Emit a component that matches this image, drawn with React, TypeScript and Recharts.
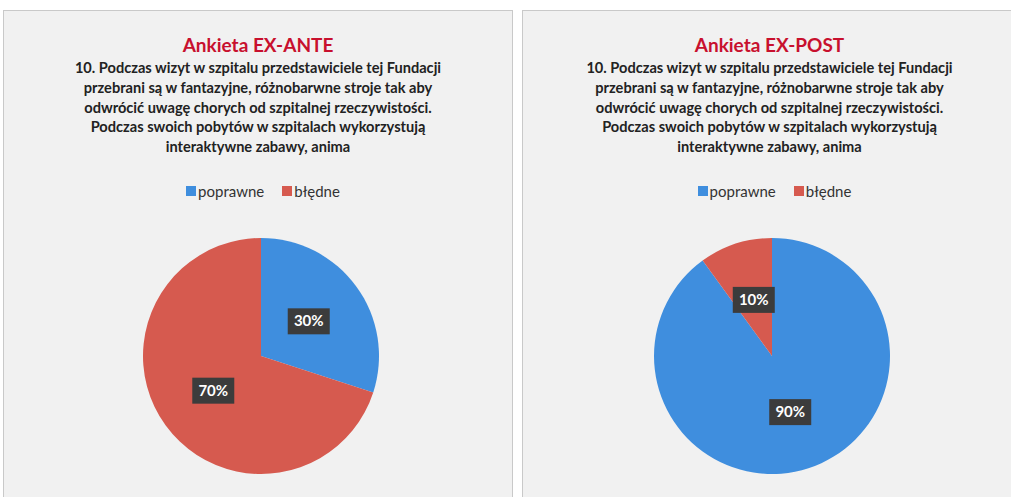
import React from "react";
import { PieChart, Pie, Cell, Legend } from "recharts";

// answer categories and colours
const categories = ["poprawne", "błędne"];
const colors = ["#3f8ede", "#d65a4f"];

// percentages per survey
const exAnteValues = [30, 70];
const exPostValues = [90, 10];

const panelTitles = ["Ankieta EX-ANTE", "Ankieta EX-POST"];

const questionLines = [
  "10. Podczas wizyt w szpitalu przedstawiciele tej Fundacji",
  "przebrani są w fantazyjne, różnobarwne stroje tak aby",
  "odwrócić uwagę chorych od szpitalnej rzeczywistości.",
  "Podczas swoich pobytów w szpitalach wykorzystują",
  "interaktywne zabawy, anima",
];

const FONT = "Lato, 'Open Sans', sans-serif";
const RAD = Math.PI / 180;

// dark box label at half radius
const renderLabel = (props: any) => {
  const { cx, cy, midAngle, outerRadius, value } = props;
  const r = outerRadius * 0.5;
  const x = cx + r * Math.cos(-midAngle * RAD);
  const y = cy + r * Math.sin(-midAngle * RAD);
  return (
    <g>
      <rect x={x - 21} y={y - 13} width={42} height={26} fill="#3c3c3c" />
      <text
        x={x}
        y={y + 1}
        textAnchor="middle"
        dominantBaseline="middle"
        fill="#ffffff"
        fontFamily={FONT}
        fontWeight={700}
        fontSize={15}
      >
        {`${value}%`}
      </text>
    </g>
  );
};

const LegendContent = () => (
  <div
    style={{
      display: "flex",
      justifyContent: "center",
      gap: 18,
      paddingLeft: 10,
      fontFamily: FONT,
      fontSize: 15,
      color: "#333",
    }}
  >
    {categories.map((c, i) => (
      <span key={c} style={{ display: "flex", alignItems: "center" }}>
        <span
          style={{
            width: 10,
            height: 10,
            background: colors[i],
            display: "inline-block",
            marginRight: 2,
          }}
        />
        {c}
      </span>
    ))}
  </div>
);

function SurveyPanel({
  title,
  values,
  left,
  width,
  pieCx,
}: {
  title: string;
  values: number[];
  left: number;
  width: number;
  pieCx: number;
}) {
  const data = categories.map((name, i) => ({ name, value: values[i] }));
  return (
    <div
      style={{
        position: "absolute",
        left,
        top: 10,
        width,
        height: 497,
        background: "#f1f1f1",
        border: "1px solid #c9c9c9",
        boxSizing: "border-box",
      }}
    >
      <div
        style={{
          position: "absolute",
          top: 22,
          left: 0,
          width: "100%",
          textAlign: "center",
          fontFamily: FONT,
          color: "#c8102e",
          fontWeight: 700,
          fontSize: 19,
          lineHeight: "24px",
        }}
      >
        {title}
      </div>
      <div
        style={{
          position: "absolute",
          top: 47,
          left: 0,
          width: "100%",
          textAlign: "center",
          fontFamily: FONT,
          color: "#222",
          fontWeight: 700,
          fontSize: 14.6,
          lineHeight: "19.8px",
        }}
      >
        {questionLines.map((l) => (
          <div key={l}>{l}</div>
        ))}
      </div>
      <div style={{ position: "absolute", left: 0, top: 0 }}>
        <PieChart width={width - 2} height={485}>
          <Legend
            content={<LegendContent />}
            verticalAlign="top"
            wrapperStyle={{ top: 171, left: 0, width: width - 2 }}
          />
          <Pie
            data={data}
            dataKey="value"
            nameKey="name"
            cx={pieCx}
            cy={322}
            outerRadius={118}
            startAngle={90}
            endAngle={-270}
            stroke="none"
            label={renderLabel}
            labelLine={false}
            isAnimationActive={false}
          >
            {data.map((d, i) => (
              <Cell key={d.name} fill={colors[i]} />
            ))}
          </Pie>
        </PieChart>
      </div>
    </div>
  );
}

export default function App() {
  return (
    <div
      style={{
        position: "absolute",
        left: 0,
        top: 0,
        width: 1011,
        height: 497,
        overflow: "hidden",
        background: "#ffffff",
      }}
    >
      <SurveyPanel title={panelTitles[0]} values={exAnteValues} left={3} width={510} pieCx={252} />
      <SurveyPanel title={panelTitles[1]} values={exPostValues} left={522} width={495} pieCx={244} />
    </div>
  );
}
